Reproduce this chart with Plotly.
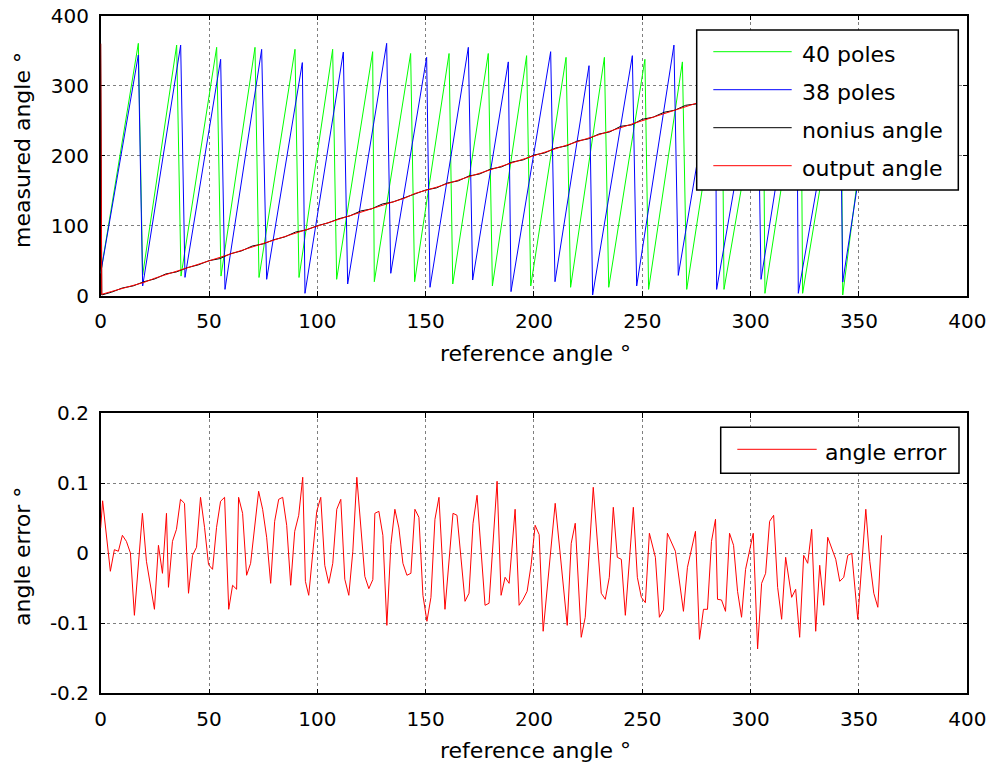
import plotly.graph_objects as go

W, H = 995, 769

# ---------------- data ----------------
poles40_x = [0, 17.38, 19.38, 35.08, 37.08, 53.54, 55.54, 71.23, 73.08, 89.69,
             91.54, 107.08, 108.92, 125.54, 126.3, 143.07, 144.9, 160.8, 162.5, 178.9,
             180.8, 196.6, 198.5, 214.8, 216.9, 232.5, 234.5, 251.2, 252.9, 268.5,
             270.5, 286.8, 287.7, 305.8, 306.6, 323.2, 324.0, 341.7, 342.5, 348.9]
poles40_y = [32, 360.5, 29.6, 358, 28, 354.8, 28, 354.8, 26, 352,
             26, 352, 23.4, 348.6, 20, 346, 20, 346, 16.7, 346,
             13.9, 342.9, 13.9, 340.5, 12, 340.5, 12, 337.7, 9, 334,
             9, 335, 9, 335, 3.4, 335, 3.4, 335, 1, 156]

poles38_x = [0, 17.38, 19.38, 36.92, 38.92, 55.38, 57.38, 74.31, 76.62, 93.08,
             94.3, 112.0, 114.0, 132.0, 133.9, 150.46, 152.0, 169.7, 171.7, 188.15,
             189.4, 207.7, 209.7, 225.4, 227.07, 245.4, 247.4, 264.6, 266.6, 283.7,
             284.3, 303.1, 304.8, 321.2, 322.0, 341.2, 342.5, 348.9]
poles38_y = [32, 343.9, 13.9, 358, 26.2, 337.7, 9, 351.9, 23.4, 333,
             3.4, 348, 16.7, 360.5, 32, 340.5, 12, 354.8, 22.4, 334,
             5.8, 348.6, 20, 328.6, 1, 342.9, 13.9, 358, 29, 345,
             9, 345, 23.4, 345, 3.4, 345, 19.5, 150]

angle_x = [0, 0.5, 5, 10, 15, 20, 25, 30, 35, 40, 45, 50,
           55, 60, 65, 70, 75, 80, 85, 90, 95, 100,
           105, 110, 115, 120, 125, 130, 135, 140, 145, 150,
           155, 160, 165, 170, 175, 180, 185, 190, 195, 200,
           205, 210, 215, 220, 225, 230, 235, 240, 245, 250,
           255, 260, 265, 270, 275, 280,
           290, 300, 310, 320, 330, 340, 350]
nonius_y = [360, 1, 5, 11, 14, 20, 24, 31, 34, 40, 44, 50,
            53, 60, 64, 71, 74, 80, 84, 91, 94, 100,
            104, 110, 114, 121, 124, 131, 134, 140, 145, 151,
            154, 161, 164, 171, 174, 181, 184, 191, 194, 201,
            204, 211, 214, 221, 224, 231, 234, 242, 244, 252,
            255, 262, 265, 272, 274, 281,
            289, 301, 309, 321, 329, 341, 350]
output_y = [360, 2, 6, 10, 15, 19, 25, 30, 35, 39, 45, 49,
            54, 59, 65, 70, 75, 79, 85, 90, 95, 99,
            105, 109, 115, 120, 125, 130, 135, 139, 146, 150,
            155, 160, 165, 170, 175, 180, 185, 190, 195, 200,
            205, 210, 215, 220, 225, 230, 235, 241, 245, 251,
            256, 261, 266, 271, 275, 280,
            290, 300, 310, 320, 330, 340, 350]

error_x = [0, 0.9, 4.47, 6.32, 8.17, 10.02, 11.87, 13.72, 15.57, 19.27,
           21.12, 24.82, 26.67, 28.52, 30.37, 31.29, 33.14, 34.99, 36.84, 38.69,
           40.54, 42.39, 44.24, 46.09, 47.94, 49.79, 51.64, 53.49, 55.34, 57.19,
           59.1, 60.89, 62.74, 63.66, 65.51, 67.36, 69.21, 72.91, 74.76, 76.61,
           78.46, 80.31, 82.16, 84.01, 85.86, 87.71, 89.56, 91.41, 93.26, 94.49,
           96.03, 99.73, 101.58, 103.43, 105.28, 107.13, 108.98, 110.83, 112.68, 114.53,
           116.38, 118.23, 121.92, 123.77, 125.62, 126.55, 128.4, 130.25, 132.1, 133.95,
           135.8, 137.65, 139.5, 141.35, 143.2, 145.04, 146.89, 148.74, 150.59, 152.44,
           154.29, 156.14, 158.92, 162.62, 164.47, 168.17, 170.02, 171.87, 173.72, 177.41,
           179.26, 182.97, 184.82, 186.67, 188.52, 191.29, 193.14, 194.99, 196.84, 198.69,
           200.54, 202.39, 204.24, 209.79, 215.34, 217.19, 219.04, 221.81, 223.66, 227.36,
           231.06, 232.91, 234.76, 236.61, 238.46, 240.31, 242.16, 245.86, 247.71, 249.56,
           251.41, 253.26, 256.04, 257.89, 259.74, 261.59, 265.28, 268.98, 270.83, 274.53,
           276.38, 278.23, 280.08, 281.93, 283.78, 284.71, 286.56, 288.41, 290.26, 292.11,
           293.96, 295.81, 297.66, 301.2, 303.21, 305.06, 306.91, 308.76, 310.61, 312.46,
           314.31, 316.16, 318.93, 320.78, 322.63, 324.48, 326.33, 328.18, 330.03, 331.88,
           333.73, 335.58, 339.28, 341.13, 342.98, 344.83, 346.68, 349.45, 353.15, 355.0,
           356.85, 358.7, 360.4]
error_y = [0.036, 0.075, -0.0257, 0.0052, 0.0029, 0.0257, 0.0171, 0.0005, -0.0886, 0.0571,
           -0.0114, -0.08, 0.0114, -0.0286, 0.0571, -0.0486, 0.0171, 0.0343, 0.0771, 0.0714,
           -0.0571, -0.0029, 0.0086, 0.08, 0.0371, -0.0162, -0.0229, 0.0371, 0.0743, 0.08,
           -0.08, -0.0457, -0.0514, 0.08, 0.0571, -0.0314, -0.0143, 0.0886, 0.0629, 0.0229,
           -0.0429, 0.0457, 0.0771, 0.08, 0.04, -0.0457, 0.0314, 0.0543, 0.1086, -0.04,
           -0.06, 0.06, 0.08, -0.0171, -0.0429, -0.0143, 0.0629, 0.0771, -0.0371, -0.06,
           0.0029, 0.1086, -0.0329, -0.0505, -0.0376, 0.0571, 0.06, 0.0257, -0.1029, 0.0124,
           0.0629, 0.0362, -0.0143, -0.0314, -0.0286, 0.0629, 0.0514, -0.06, -0.0971, -0.0629,
           0.0486, 0.08, -0.08, 0.0571, 0.0543, -0.0686, -0.0571, 0.0429, 0.0829, -0.0743,
           -0.0714, 0.1029, -0.06, -0.0343, -0.0429, 0.0629, -0.0743, -0.0657, -0.0543, -0.0162,
           0.04, 0.0267, -0.1114, 0.0714, -0.1029, 0.0143, 0.0429, -0.12, -0.0914, 0.0943,
           -0.0571, -0.0657, -0.0343, 0.0657, -0.0057, -0.0086, -0.0886, 0.0657, -0.0343, -0.0629,
           -0.0705, 0.0286, -0.0057, -0.0914, -0.081, 0.0286, 0.0029, -0.0829, -0.02, 0.0314,
           -0.1229, -0.08, -0.08, 0.0171, 0.0486, -0.0657, -0.0667, -0.0829, 0.0286, 0.0114,
           -0.0543, -0.0914, -0.0229, 0.0286, -0.1367, -0.0429, -0.0286, 0.0457, 0.0543, -0.0486,
           -0.0943, -0.0057, -0.0629, -0.0514, -0.12, -0.0029, -0.0143, 0.0343, -0.1114, -0.0171,
           -0.0743, 0.0229, -0.0086, -0.04, -0.0343, -0.0029, 0.0, -0.0943, 0.0629, -0.0114,
           -0.0571, -0.0771, 0.0257]

x_ticks = [0, 50, 100, 150, 200, 250, 300, 350, 400]
top_y_ticks = [0, 100, 200, 300, 400]
bot_y_ticks = [-0.2, -0.1, 0, 0.1, 0.2]
bot_y_labels = ["-0.2", "-0.1", "0", "0.1", "0.2"]

top_legend = [("40 poles", "#00ff00"), ("38 poles", "#0000ff"),
              ("nonius angle", "#000000"), ("output angle", "#ff0000")]
bot_legend = [("angle error", "#ff0000")]

# ---------------- layout helpers ----------------
def px(xp):
    return xp / W

def py(yp):
    return 1 - yp / H

FONT = "DejaVu Sans, Arial, sans-serif"
TICK_FS = 20
TITLE_FS = 22
LEG_FS = 22

fig = go.Figure()
fig.add_trace(go.Scatter(x=poles40_x, y=poles40_y, mode="lines", line=dict(color="#00ff00", width=1), xaxis="x", yaxis="y"))
fig.add_trace(go.Scatter(x=poles38_x, y=poles38_y, mode="lines", line=dict(color="#0000ff", width=1), xaxis="x", yaxis="y"))
fig.add_trace(go.Scatter(x=angle_x, y=nonius_y, mode="lines", line=dict(color="#000000", width=1), xaxis="x", yaxis="y"))
fig.add_trace(go.Scatter(x=angle_x, y=output_y, mode="lines", line=dict(color="#ff0000", width=1), xaxis="x", yaxis="y"))
fig.add_trace(go.Scatter(x=error_x, y=error_y, mode="lines", line=dict(color="#ff0000", width=1), xaxis="x2", yaxis="y2"))

xdom = [px(100.67), px(967.3)]
axis_common = dict(showline=True, linecolor="black", linewidth=1.5, mirror="ticks",
                   ticks="inside", ticklen=5, tickcolor="black", tickwidth=1,
                   showgrid=True, gridcolor="rgba(0,0,0,0.5)", griddash="dot", gridwidth=1,
                   zeroline=False, automargin=False, layer="below traces",
                   tickfont=dict(family=FONT, size=TICK_FS, color="black"))

fig.update_layout(
    width=W, height=H, margin=dict(l=0, r=0, t=0, b=0, autoexpand=False),
    paper_bgcolor="white", plot_bgcolor="white", showlegend=False,
    xaxis=dict(domain=xdom, range=[0, 400], tickvals=x_ticks, anchor="y", ticklabelstandoff=7, **axis_common),
    yaxis=dict(domain=[py(295.7), py(15.7)], range=[0, 400], tickvals=top_y_ticks, anchor="x", ticklabelstandoff=6, **axis_common),
    xaxis2=dict(domain=xdom, range=[0, 400], tickvals=x_ticks, anchor="y2", ticklabelstandoff=7, **axis_common),
    yaxis2=dict(domain=[py(693.3), py(413.3)], range=[-0.2, 0.2], tickvals=bot_y_ticks, ticktext=bot_y_labels,
                anchor="x2", ticklabelstandoff=6, **axis_common),
)

ann = []
tf = dict(family=FONT, size=TITLE_FS, color="black")
ann.append(dict(text="reference angle °", x=px(535), y=py(354), xref="paper", yref="paper", showarrow=False, font=tf, xanchor="center", yanchor="middle"))
ann.append(dict(text="reference angle °", x=px(535), y=py(750), xref="paper", yref="paper", showarrow=False, font=tf, xanchor="center", yanchor="middle"))
ann.append(dict(text="measured angle °", x=px(22), y=py(150), xref="paper", yref="paper", showarrow=False, font=tf, textangle=-90, xanchor="center", yanchor="middle"))
ann.append(dict(text="angle error °", x=px(22), y=py(557), xref="paper", yref="paper", showarrow=False, font=tf, textangle=-90, xanchor="center", yanchor="middle"))

shapes = []
# top legend
shapes.append(dict(type="rect", xref="paper", yref="paper", x0=px(696.7), x1=px(958.3), y0=py(190), y1=py(30),
                   line=dict(color="black", width=1.5), fillcolor="white", layer="above"))
for i, (name, col) in enumerate(top_legend):
    ly = 51.7 + i * 38
    shapes.append(dict(type="line", xref="paper", yref="paper", x0=px(713.3), x1=px(791.7), y0=py(ly), y1=py(ly),
                       line=dict(color=col, width=1), layer="above"))
    ann.append(dict(text=name, x=px(800), y=py(ly + 3), xref="paper", yref="paper", showarrow=False,
                    font=dict(family=FONT, size=LEG_FS, color="black"), xanchor="left", yanchor="middle"))
# bottom legend
shapes.append(dict(type="rect", xref="paper", yref="paper", x0=px(720.7), x1=px(959), y0=py(473.3), y1=py(427.3),
                   line=dict(color="black", width=1.5), fillcolor="white", layer="above"))
for name, col in bot_legend:
    shapes.append(dict(type="line", xref="paper", yref="paper", x0=px(737.3), x1=px(816.7), y0=py(449.3), y1=py(449.3),
                       line=dict(color=col, width=1), layer="above"))
    ann.append(dict(text=name, x=px(823), y=py(452), xref="paper", yref="paper", showarrow=False,
                    font=dict(family=FONT, size=LEG_FS, color="black"), xanchor="left", yanchor="middle"))

fig.update_layout(annotations=ann, shapes=shapes)
fig.write_html("out.html")
